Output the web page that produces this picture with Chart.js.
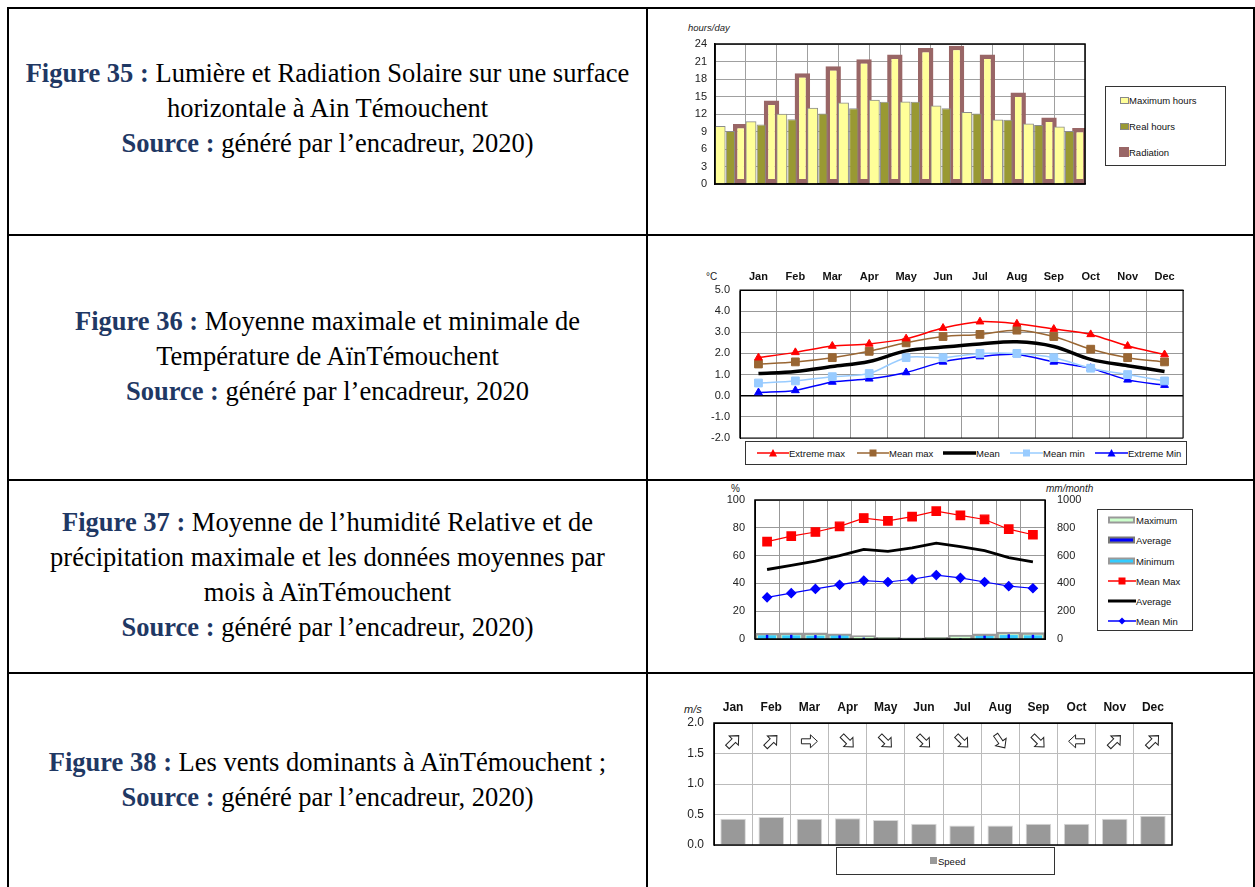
<!DOCTYPE html>
<html>
<head>
<meta charset="utf-8">
<script src="https://cdn.jsdelivr.net/npm/chart.js@4.4.1/dist/chart.umd.min.js"></script>
<style>
body { margin: 0; background: #fff; }
#page { position: relative; width: 1255px; height: 887px; overflow: hidden; font-family: 'Liberation Sans', Arial, sans-serif; }
.ln { position: absolute; background: #000; }
.cap { position: absolute; left: 9px; width: 637px; text-align: center; font-family: 'Liberation Serif', 'Times New Roman', serif;
       font-size: 26.5px; line-height: 35px; white-space: nowrap; color: #000; }
.cap b { color: #1F3864; }
canvas { position: absolute; }
.lab { position: absolute; font-size: 10px; color: #222; white-space: nowrap; }
.leg { position: absolute; border: 1px solid #333; background: #fff; box-sizing: border-box; }
.li { position: absolute; font-size: 9.5px; color: #111; white-space: nowrap; display: flex; align-items: center; height: 12px; }
.li svg { display: block; }
</style>
</head>
<body>
<div id="page">
  <!-- table lines -->
  <div class="ln" style="left:7px;top:7px;width:1248px;height:2px"></div>
  <div class="ln" style="left:7px;top:7px;width:2px;height:880px"></div>
  <div class="ln" style="left:646px;top:7px;width:2px;height:880px"></div>
  <div class="ln" style="left:1253px;top:7px;width:2px;height:880px"></div>
  <div class="ln" style="left:7px;top:234px;width:1248px;height:2px"></div>
  <div class="ln" style="left:7px;top:479px;width:1248px;height:2px"></div>
  <div class="ln" style="left:7px;top:672px;width:1248px;height:2px"></div>

  <!-- captions -->
  <div class="cap" style="top:56px"><b>Figure 35 :</b> Lumière et Radiation Solaire sur une surface<br>horizontale à Ain Témouchent<br><b>Source :</b> généré par l’encadreur, 2020)</div>
  <div class="cap" style="top:304px"><b>Figure 36 :</b> Moyenne maximale et minimale de<br>Température de AïnTémouchent<br><b>Source :</b> généré par l’encadreur, 2020</div>
  <div class="cap" style="top:505px"><b>Figure 37 :</b> Moyenne de l’humidité Relative et de<br>précipitation maximale et les données moyennes par<br>mois à AïnTémouchent<br><b>Source :</b> généré par l’encadreur, 2020)</div>
  <div class="cap" style="top:745px"><b>Figure 38 :</b> Les vents dominants à AïnTémouchent ;<br><b>Source :</b> généré par l’encadreur, 2020)</div>

  <!-- figure 35 -->
  <div class="lab" style="left:688px;top:22px;font-style:italic;font-size:9.5px">hours/day</div>
  <canvas id="c35" width="420" height="160" style="left:680px;top:30px"></canvas>
  <div class="leg" style="left:1105px;top:86px;width:121px;height:80px">
    <div class="li" style="left:14px;top:7px"><svg width="9" height="7"><rect x="0.5" y="0.5" width="8" height="6" fill="#FFFF99" stroke="#888"/></svg>Maximum hours</div>
    <div class="li" style="left:14px;top:33px"><svg width="9" height="7"><rect x="0.5" y="0.5" width="8" height="6" fill="#999933" stroke="#888"/></svg>Real hours</div>
    <div class="li" style="left:13px;top:59px"><svg width="10" height="10"><rect x="0" y="0" width="10" height="10" fill="#996666"/></svg>Radiation</div>
  </div>

  <!-- figure 36 -->
  <div class="lab" style="left:706px;top:271px;font-size:10px">°C</div>
  <canvas id="c36" width="500" height="181" style="left:695px;top:265px"></canvas>
  <div class="leg" style="left:745px;top:441px;width:442px;height:24px">
    <div class="li" style="left:11px;top:5px"><svg width="32" height="10"><line x1="0" y1="5" x2="32" y2="5" stroke="#f00" stroke-width="1.5"/><polygon points="16,1 20,8.5 12,8.5" fill="#f00"/></svg>Extreme max</div>
    <div class="li" style="left:111px;top:5px"><svg width="32" height="10"><line x1="0" y1="5" x2="32" y2="5" stroke="#996633" stroke-width="1.5"/><rect x="12.5" y="1.5" width="7" height="7" fill="#996633"/></svg>Mean max</div>
    <div class="li" style="left:197px;top:5px"><svg width="33" height="10"><line x1="0" y1="5" x2="33" y2="5" stroke="#000" stroke-width="3.5"/></svg>Mean</div>
    <div class="li" style="left:264px;top:5px"><svg width="33" height="10"><line x1="0" y1="5" x2="33" y2="5" stroke="#99CCFF" stroke-width="1.5"/><rect x="13" y="1.5" width="7" height="7" fill="#99CCFF"/></svg>Mean min</div>
    <div class="li" style="left:349px;top:5px"><svg width="33" height="10"><line x1="0" y1="5" x2="33" y2="5" stroke="#00f" stroke-width="1.5"/><polygon points="16.5,1 20.5,8.5 12.5,8.5" fill="#00f"/></svg>Extreme Min</div>
  </div>

  <!-- figure 37 -->
  <div class="lab" style="left:731px;top:483px;font-size:10px">%</div>
  <div class="lab" style="left:1046px;top:483px;font-style:italic;font-size:10px">mm/month</div>
  <canvas id="c37" width="365" height="158" style="left:720px;top:490px"></canvas>
  <div class="leg" style="left:1097px;top:509px;width:96px;height:122px">
    <div class="li" style="left:10px;top:4px"><svg width="28" height="8"><rect x="1" y="1.5" width="25" height="5" fill="#CCFFCC" stroke="#999" stroke-width="2"/></svg>Maximum</div>
    <div class="li" style="left:10px;top:24px"><svg width="28" height="8"><rect x="1" y="1.5" width="25" height="5" fill="#0000FF" stroke="#777" stroke-width="2"/></svg>Average</div>
    <div class="li" style="left:10px;top:45px"><svg width="28" height="8"><rect x="1" y="1.5" width="25" height="5" fill="#33CCFF" stroke="#999" stroke-width="2"/></svg>Minimum</div>
    <div class="li" style="left:10px;top:65px"><svg width="28" height="10"><line x1="0" y1="5" x2="28" y2="5" stroke="#f00" stroke-width="1.5"/><rect x="10.5" y="1.5" width="7" height="7" fill="#f00"/></svg>Mean Max</div>
    <div class="li" style="left:10px;top:85px"><svg width="28" height="10"><line x1="0" y1="5" x2="28" y2="5" stroke="#000" stroke-width="3"/></svg>Average</div>
    <div class="li" style="left:10px;top:105px"><svg width="28" height="10"><line x1="0" y1="5" x2="28" y2="5" stroke="#00f" stroke-width="1.5"/><polygon points="14,1.5 17.5,5 14,8.5 10.5,5" fill="#00f"/></svg>Mean Min</div>
  </div>

  <!-- figure 38 -->
  <div class="lab" style="left:684px;top:703px;font-style:italic;font-size:11px">m/s</div>
  <canvas id="c38" width="510" height="160" style="left:674px;top:693px"></canvas>
  <div class="leg" style="left:836px;top:847px;width:219px;height:28px">
    <div class="li" style="left:93px;top:7px"><svg width="8" height="8"><rect x="0" y="0" width="7" height="7" fill="#999"/></svg>Speed</div>
  </div>
</div>

<script>
// --- donnees ---
const months = ["Jan", "Feb", "Mar", "Apr", "May", "Jun", "Jul", "Aug", "Sep", "Oct", "Nov", "Dec"];

// figure 35 (hours/day)
const maxHours  = [9.9, 10.7, 12.0, 13.0, 13.9, 14.4, 14.1, 13.4, 12.3, 11.0, 10.3, 9.8];
const realHours = [9.1, 10.2, 11.1, 12.1, 13.0, 14.1, 14.1, 13.0, 12.1, 11.0, 10.1, 9.1];
const radiation = [10.3, 14.3, 19.0, 20.2, 21.4, 22.2, 23.3, 23.7, 22.2, 15.7, 11.4, 9.6];
const hoursAxis = [0, 24, 3];

// figure 36 (temperature)
const extremeMax = [1.8, 2.05, 2.35, 2.45, 2.7, 3.2, 3.5, 3.4, 3.15, 2.9, 2.35, 1.95];
const meanMax    = [1.5, 1.6, 1.8, 2.1, 2.5, 2.8, 2.9, 3.1, 2.8, 2.2, 1.8, 1.6];
const meanTemp   = [1.05, 1.15, 1.38, 1.62, 2.12, 2.3, 2.45, 2.55, 2.33, 1.72, 1.42, 1.15];
const meanMin    = [0.6, 0.7, 0.9, 1.05, 1.8, 1.8, 2.0, 2.0, 1.8, 1.3, 1.0, 0.7];
const extremeMin = [0.15, 0.25, 0.65, 0.8, 1.1, 1.6, 1.85, 1.95, 1.6, 1.3, 0.75, 0.5];
const tempAxis = [-2, 5, 1];

// figure 37 (humidite % et precipitations mm/month)
const rhMeanMax = [70, 74, 77, 81, 87, 85, 88, 92, 89, 86, 79, 75];
const rhAverage = [50, 53, 56, 60, 64.5, 63, 65.5, 69, 66.5, 63.5, 58.5, 55.5];
const rhMeanMin = [30, 33, 36, 39, 42, 41, 43, 46, 44, 41, 38, 36.5];
const precipMax = [40, 44, 44, 38, 24, 12, 8, 12, 28, 38, 50, 46];
const precipAvg = [30, 30, 28, 26, 10, 0, 0, 0, 4, 24, 34, 30];
const precipMin = [26, 26, 24, 24, 0, 0, 0, 0, 0, 22, 28, 26];
const rhAxis = [0, 100, 20];
const precipAxis = [0, 1000, 200];

// figure 38 (vent)
const windSpeed = [0.43, 0.46, 0.43, 0.44, 0.41, 0.35, 0.32, 0.32, 0.35, 0.35, 0.43, 0.48];
const windAngle = [-45, -45, 0, 45, 45, 45, 45, 55, 45, 180, -45, -45];
const arrowLevel = 1.7;
const windAxis = [0, 2, 0.5];

Chart.defaults.font.family = "'Liberation Sans', Arial, sans-serif";
Chart.defaults.color = "#222";
Chart.defaults.animation = false;
Chart.defaults.responsive = false;
Chart.defaults.devicePixelRatio = 1;
Chart.defaults.plugins.legend.display = false;
Chart.defaults.plugins.tooltip.enabled = false;

// largeur / hauteur fixe des axes, sans marge pour les etiquettes
function fixW(w) {
    return function (s) { s.width = w; s.paddingTop = 0; s.paddingBottom = 0; };
}
function fixH(h) {
    return function (s) { s.height = h; s.paddingLeft = 0; s.paddingRight = 0; };
}

// cadre autour de la zone du graphique
const framePlugin = {
    id: "frame",
    afterDraw(chart, args, opts) {
        const a = chart.chartArea, c = chart.ctx;
        c.save();
        c.strokeStyle = opts.color || "#000";
        c.lineWidth = opts.width || 1;
        c.strokeRect(a.left, a.top, a.right - a.left, a.bottom - a.top);
        c.restore();
    }
};

// fleches de direction du vent
const arrowPlugin = {
    id: "windArrows",
    afterDatasetsDraw(chart) {
        const xs = chart.scales.x, ys = chart.scales.y, c = chart.ctx;
        windAngle.forEach((ang, i) => {
            c.save();
            c.translate(xs.getPixelForValue(i), ys.getPixelForValue(arrowLevel));
            c.rotate(ang * Math.PI / 180);
            c.beginPath();
            c.moveTo(-8, -2.5); c.lineTo(1, -2.5); c.lineTo(1, -6.5); c.lineTo(8, 0);
            c.lineTo(1, 6.5); c.lineTo(1, 2.5); c.lineTo(-8, 2.5); c.closePath();
            c.fillStyle = "#fff"; c.fill();
            c.strokeStyle = "#222"; c.lineWidth = 1; c.stroke();
            c.restore();
        });
    }
};

const oneDec = v => v.toFixed(1);

// Figure 35
new Chart(document.getElementById("c35"), {
    type: "bar",
    data: {
        labels: months,
        datasets: [
            { label: "Maximum hours", data: maxHours, backgroundColor: "#FFFF99", borderColor: "#8c8c8c", borderWidth: 1, barPercentage: 1, categoryPercentage: 1 },
            { label: "Real hours", data: realHours, backgroundColor: "#999933", borderColor: "#8c8c8c", borderWidth: 1, barPercentage: 0.9, categoryPercentage: 1 },
            { label: "Radiation", data: radiation, backgroundColor: "#FFFF99", borderColor: "#996666", borderWidth: 4.5, borderSkipped: false, barPercentage: 1.5, categoryPercentage: 1 }
        ]
    },
    options: {
        layout: { padding: { top: 14, right: 15, bottom: 6, left: 0 } },
        scales: {
            x: { ticks: { display: false }, grid: { color: "#a0a0a0", drawTicks: false, offset: true }, border: { color: "#000", width: 1.5 }, afterFit: fixH(0) },
            y: { min: hoursAxis[0], max: hoursAxis[1], ticks: { stepSize: hoursAxis[2], padding: 8, font: { size: 11 } },
                 grid: { color: "#a0a0a0", drawTicks: false }, border: { color: "#000", width: 1.5 }, afterFit: fixW(35) }
        },
        plugins: { frame: { width: 1.5 } }
    },
    plugins: [framePlugin]
});

// Figure 36
const lineStyle = (label, data, color, style, r) => ({
    label: label, data: data, borderColor: color, backgroundColor: color, borderWidth: 1.5,
    pointStyle: style, pointRadius: r, pointBorderWidth: 1, tension: 0.3
});
new Chart(document.getElementById("c36"), {
    type: "line",
    data: {
        labels: months,
        datasets: [
            lineStyle("Extreme max", extremeMax, "#FF0000", "triangle", 4.5),
            lineStyle("Mean max", meanMax, "#996633", "rect", 5.5),
            { label: "Mean", data: meanTemp, borderColor: "#000", borderWidth: 3.5, pointRadius: 0, tension: 0.35 },
            lineStyle("Mean min", meanMin, "#99CCFF", "rect", 5.5),
            lineStyle("Extreme Min", extremeMin, "#0000FF", "triangle", 4.5)
        ]
    },
    options: {
        layout: { padding: { top: 0, right: 12, bottom: 8, left: 0 } },
        scales: {
            x: { position: "top", offset: true, grid: { offset: true, color: "#999", drawTicks: false },
                 ticks: { padding: 6, color: "#111", font: { size: 11, weight: "bold" } }, border: { color: "#000" },
                 afterFit: fixH(25) },
            y: { min: tempAxis[0], max: tempAxis[1], ticks: { stepSize: tempAxis[2], callback: oneDec, padding: 10, font: { size: 11 } },
                 grid: { drawTicks: false, color: c => (c.tick && c.tick.value === 0 ? "#000" : "#999"), lineWidth: c => (c.tick && c.tick.value === 0 ? 1.5 : 1) },
                 border: { color: "#000" }, afterFit: fixW(45) }
        },
        plugins: { frame: { width: 1 } }
    },
    plugins: [framePlugin]
});

// Figure 37
new Chart(document.getElementById("c37"), {
    data: {
        labels: months,
        datasets: [
            { type: "line", label: "Mean Max", data: rhMeanMax, yAxisID: "y", order: 0, borderColor: "#FF0000", backgroundColor: "#FF0000", borderWidth: 1.2, pointStyle: "rect", pointRadius: 6, tension: 0 },
            { type: "line", label: "Average", data: rhAverage, yAxisID: "y", order: 0, borderColor: "#000", borderWidth: 2.8, pointRadius: 0, tension: 0 },
            { type: "line", label: "Mean Min", data: rhMeanMin, yAxisID: "y", order: 0, borderColor: "#0000FF", backgroundColor: "#0000FF", borderWidth: 1.2, pointStyle: "rectRot", pointRadius: 4.5, tension: 0 },
            { type: "bar", label: "Average", data: precipAvg, yAxisID: "y1", order: 1, grouped: false, backgroundColor: "#0000FF", barPercentage: 0.1, categoryPercentage: 1 },
            { type: "bar", label: "Minimum", data: precipMin, yAxisID: "y1", order: 2, grouped: false, backgroundColor: "#33CCFF", barPercentage: 0.75, categoryPercentage: 1 },
            { type: "bar", label: "Maximum", data: precipMax, yAxisID: "y1", order: 3, grouped: false, backgroundColor: "#CCFFCC", borderColor: "#9a9a9a", borderWidth: 2.5, barPercentage: 1, categoryPercentage: 1 }
        ]
    },
    options: {
        layout: { padding: { top: 10, right: 0, bottom: 9, left: 0 } },
        scales: {
            x: { offset: true, ticks: { display: false }, grid: { offset: true, color: "#999", drawTicks: false }, border: { color: "#000" }, afterFit: fixH(0) },
            y: { position: "left", min: rhAxis[0], max: rhAxis[1], ticks: { stepSize: rhAxis[2], padding: 10, font: { size: 11 } },
                 grid: { color: "#999", drawTicks: false }, border: { color: "#000" }, afterFit: fixW(35) },
            y1: { position: "right", min: precipAxis[0], max: precipAxis[1], ticks: { stepSize: precipAxis[2], padding: 12, font: { size: 11 }, callback: v => String(v) },
                  grid: { display: false, drawTicks: false }, border: { color: "#000" }, afterFit: fixW(40) }
        },
        plugins: { frame: { width: 1.5 } }
    },
    plugins: [framePlugin]
});

// Figure 38
new Chart(document.getElementById("c38"), {
    type: "bar",
    data: {
        labels: months,
        datasets: [
            { label: "Speed", data: windSpeed, backgroundColor: "#999999", borderColor: "#d8d8d8", borderWidth: 1, barPercentage: 0.67, categoryPercentage: 1 }
        ]
    },
    options: {
        layout: { padding: { top: 0, right: 12, bottom: 8, left: 0 } },
        scales: {
            x: { position: "top", grid: { offset: true, color: "#bbb", drawTicks: false },
                 ticks: { padding: 8, color: "#111", font: { size: 12, weight: "bold" } }, border: { color: "#000" },
                 afterFit: fixH(30) },
            y: { min: windAxis[0], max: windAxis[1], ticks: { stepSize: windAxis[2], callback: oneDec, padding: 10, font: { size: 12 } },
                 grid: { color: "#bbb", drawTicks: false }, border: { color: "#000" }, afterFit: fixW(40) }
        },
        plugins: { frame: { width: 1.5 } }
    },
    plugins: [framePlugin, arrowPlugin]
});
</script>
</body>
</html>
